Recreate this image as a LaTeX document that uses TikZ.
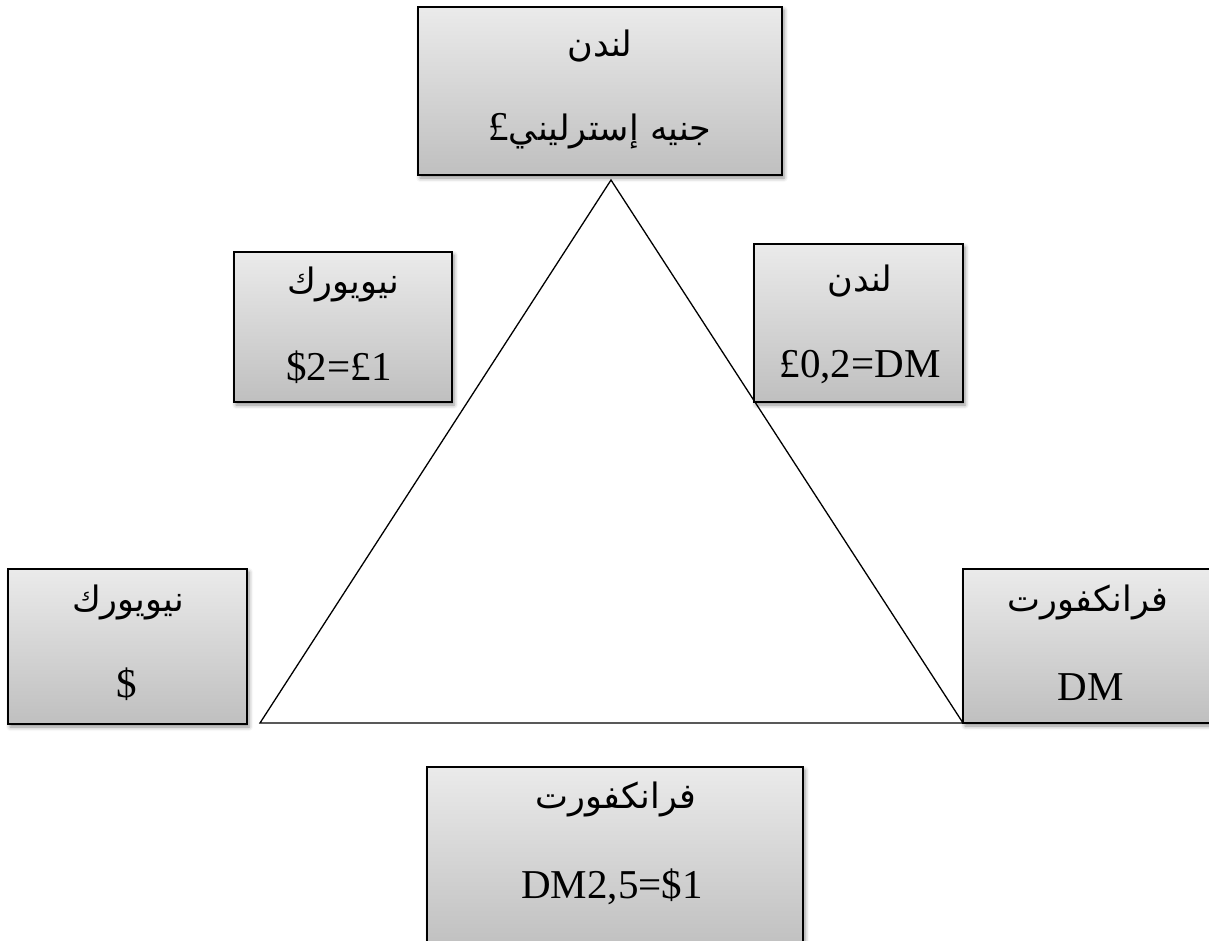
\documentclass[tikz,border=0pt]{standalone}
\usepackage{fontspec}
\setmainfont{Liberation Serif}
\newfontfamily\arabicfont[Script=Arabic]{DejaVu Sans}
\TeXXeTstate=1
\usetikzlibrary{shadows.blur}

\tikzset{
  box/.style={draw=black, line width=2pt, rectangle, inner sep=0pt,
    top color=black!8, bottom color=black!25,
    blur shadow={shadow xshift=2pt, shadow yshift=-3pt, shadow blur radius=4pt, shadow opacity=45}},
  artext/.style={font=\arabicfont\fontsize{35}{38}\selectfont, anchor=base, inner sep=0pt},
  latext/.style={font=\fontsize{41}{44}\selectfont, anchor=base, inner sep=0pt},
  side/.style={line width=1.3pt, black, line join=miter}
}

\begin{document}
\begin{tikzpicture}[x=1pt, y=-1pt]
  \useasboundingbox (0,0) rectangle (1209,940);
  \clip (0,0) rectangle (1209,940);

  % triangle of the three markets
  \coordinate (apex) at (611,180);
  \coordinate (bl) at (260,723);
  \coordinate (br) at (963,723);
  \draw[side] (apex) -- (bl) -- (br) -- cycle;

  % London (pound sterling)
  \node[box, minimum width=364pt, minimum height=168pt] (lon) at (600,91) {};
  \node[artext] (lonA) at (600,56) {\beginR لندن\endR};
  \node[artext] (lonB) at (600,140) {\beginR جنيه إسترليني{\rmfamily\fontsize{41}{44}\selectfont £}\endR};

  % New York cross rate
  \node[box, minimum width=218pt, minimum height=150pt] (nyr) at (343,327) {};
  \node[artext] (nyrA) at (343,293) {\beginR نيويورك\endR};
  \node[latext] (nyrB) at (339,380) {\$2=£1};

  % London cross rate
  \node[box, minimum width=209pt, minimum height=158pt] (lonr) at (858.5,323) {};
  \node[artext] (lonrA) at (860,291) {\beginR لندن\endR};
  \node[latext] (lonrB) at (860,377) {£0,2=DM};

  % New York (dollar)
  \node[box, minimum width=239pt, minimum height=155pt] (ny) at (127.5,646.5) {};
  \node[artext] (nyA) at (128,611) {\beginR نيويورك\endR};
  \node[latext] (nyB) at (127,697) {\$};

  % Frankfurt (mark)
  \node[box, minimum width=254pt, minimum height=154pt] (fra) at (1090,646) {};
  \node[artext] (fraA) at (1088,611) {\beginR فرانكفورت\endR};
  \node[latext] (fraB) at (1091,700) {DM};

  % Frankfurt cross rate
  \node[box, minimum width=376pt, minimum height=183pt] (frar) at (615,858.5) {};
  \node[artext] (frarA) at (616,808) {\beginR فرانكفورت\endR};
  \node[latext] (frarB) at (612,898) {DM2,5=\$1};
\end{tikzpicture}
\end{document}
